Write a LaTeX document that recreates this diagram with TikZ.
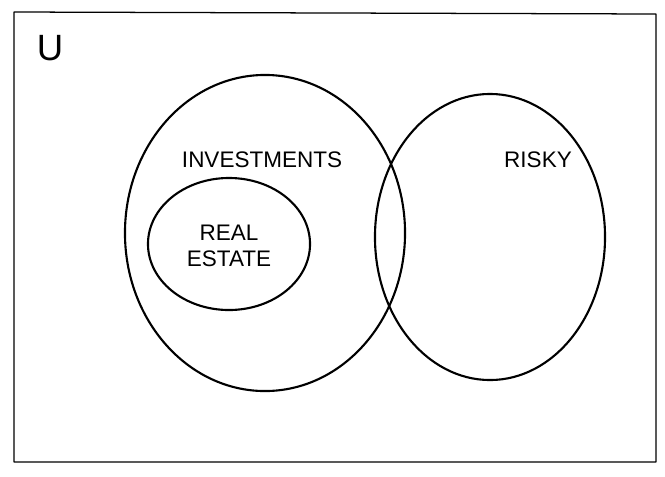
\documentclass[tikz,border=0pt]{standalone}
\usepackage{fontspec}
\setmainfont{Liberation Sans}
\usetikzlibrary{shapes.geometric}
\begin{document}
\begin{tikzpicture}[x=0.025cm,y=-0.025cm,line cap=round,line join=round,
	set/.style={draw,ellipse,line width=1.5pt,inner sep=0pt},
	lbl/.style={font=\fontsize{16}{19}\selectfont}]
	\useasboundingbox (0,0) rectangle (665,476);
	\path
	(14,12)coordinate(UL)
	(656,14)coordinate(UR)
	(656,462)coordinate(LR)
	(14,462)coordinate(LL)
	;
	\draw[line width=0.9pt](UL)--(UR)--(LR)--(LL)--cycle;
	\node[font=\fontsize{26}{30}\selectfont](u) at (50,48){U};
	\node[set,minimum width=7cm,minimum height=7.9cm](inv) at (265,233){};
	\node[set,minimum width=5.75cm,minimum height=7.15cm](risky) at (490,237){};
	\node[set,minimum width=4.05cm,minimum height=3.3cm](real) at (229,244){};
	\node[lbl](invl) at (262,160){INVESTMENTS};
	\node[lbl](riskyl) at (538,160){RISKY};
	\node[lbl,align=center](reall) at (229,246){REAL\\ESTATE};
\end{tikzpicture}
\end{document}
